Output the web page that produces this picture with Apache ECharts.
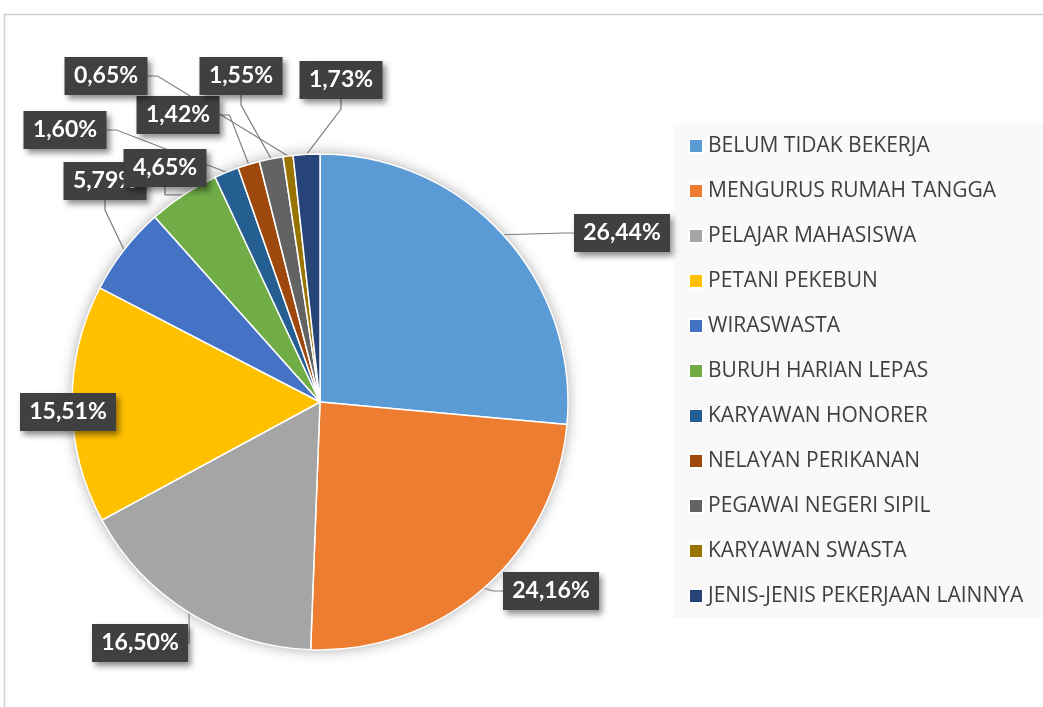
<!DOCTYPE html>
<html>
<head>
<meta charset="utf-8">
<script src="https://cdn.jsdelivr.net/npm/echarts@6/dist/echarts.min.js"></script>
<style>
  html, body { margin: 0; padding: 0; background: #ffffff; }
  #myGraph { width: 1043px; height: 707px; }
</style>
</head>
<body>
<div id="myGraph"></div>
<script>
// categories and shares (%)
const categories = [
  "BELUM TIDAK BEKERJA",
  "MENGURUS RUMAH TANGGA",
  "PELAJAR MAHASISWA",
  "PETANI PEKEBUN",
  "WIRASWASTA",
  "BURUH HARIAN LEPAS",
  "KARYAWAN HONORER",
  "NELAYAN PERIKANAN",
  "PEGAWAI NEGERI SIPIL",
  "KARYAWAN SWASTA",
  "JENIS-JENIS PEKERJAAN LAINNYA"
];
const shares = [26.44, 24.16, 16.50, 15.51, 5.79, 4.65, 1.60, 1.42, 1.55, 0.65, 1.73];

const colors = ["#5B9BD5", "#ED7D31", "#A5A5A5", "#FFC000", "#4472C4", "#70AD47",
                "#255E91", "#9E480E", "#636363", "#997300", "#264478"];

// where each data label box sits (centre, px)
const labelPos = [
  [622, 233], [551, 591], [140, 643], [68, 412], [105, 181], [165, 168],
  [65, 130], [178, 115], [241, 76], [106, 76], [341, 80]
];

let myChart = echarts.init(document.getElementById("myGraph"));

let option = {
  animation: false,
  color: colors,
  graphic: [
    {
      type: "rect", z: -10, silent: true,
      shape: { x: 4.5, y: 14.5, width: 1100, height: 800 },
      style: { fill: "#ffffff", stroke: "#d0d0d0", lineWidth: 1.5 }
    },
    {
      type: "rect", z: -9, silent: true,
      shape: { x: 673, y: 123, width: 400, height: 495 },
      style: { fill: "#f9f9f9" }
    }
  ],
  legend: {
    orient: "vertical",
    left: 688,
    top: 135,
    padding: 0,
    icon: "rect",
    itemWidth: 14,
    itemHeight: 14,
    itemGap: 23,
    data: categories,
    textStyle: {
      fontFamily: "Open Sans",
      fontSize: 21,
      lineHeight: 22,
      color: "#404040"
    }
  },
  series: [
    {
      // soft shadow behind the pie
      type: "pie",
      silent: true,
      center: [320, 402],
      radius: 248,
      z: 1,
      label: { show: false },
      labelLine: { show: false },
      itemStyle: {
        color: "#ffffff",
        shadowBlur: 14,
        shadowColor: "rgba(0,0,0,0.35)"
      },
      data: [{ value: 1, name: "" }]
    },
    {
      type: "pie",
      center: [320, 402],
      radius: 248,
      startAngle: 90,
      clockwise: true,
      z: 2,
      itemStyle: { borderColor: "#ffffff", borderWidth: 1.5 },
      data: categories.map((c, i) => ({
        name: c,
        value: shares[i],
        label: { width: shares[i] >= 10 ? 80 : 67 }
      })),
      label: {
        show: true,
        position: "outside",
        overflow: "none",
        formatter: p => p.value.toFixed(2).replace(".", ",") + "%",
        fontFamily: "Lato",
        fontWeight: "bold",
        fontSize: 23,
        color: "#ffffff",
        backgroundColor: "#404040",
        padding: [8, 8, 7, 8],
        shadowBlur: 6,
        shadowColor: "rgba(0,0,0,0.45)",
        shadowOffsetX: 3,
        shadowOffsetY: 4
      },
      labelLine: {
        show: true,
        length: 10,
        length2: 10,
        lineStyle: { color: "#7f7f7f", width: 1.2 }
      },
      labelLayout: function (params) {
        const p = labelPos[params.dataIndex];
        return {
          x: p[0],
          y: p[1],
          align: "center",
          verticalAlign: "middle"
        };
      }
    }
  ]
};

option && myChart.setOption(option);
</script>
</body>
</html>
